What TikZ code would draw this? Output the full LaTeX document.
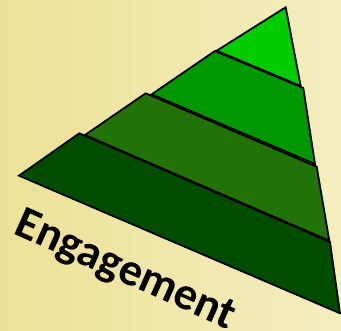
\documentclass[tikz,border=0pt]{standalone}
\usepackage{fontspec}
\setmainfont{Carlito}
\begin{document}
\begin{tikzpicture}[x=1pt,y=-1pt,
  layer/.style={draw=black,line width=1.8pt,line join=miter}]
\definecolor{lone}{RGB}{0,204,0}
\definecolor{ltwo}{RGB}{0,151,0}
\definecolor{lthree}{RGB}{33,115,7}
\definecolor{lfour}{RGB}{0,77,0}
\definecolor{bgl}{RGB}{236,225,150}
\definecolor{bgr}{RGB}{244,238,192}
\useasboundingbox (0,0) rectangle (341,331);
\shade[left color=bgl,right color=bgr] (0,0) rectangle (341,331);
% layers, bottom first
\filldraw[layer,fill=lfour] (79.3,133.3) -- (330,242) -- (340,313.3) -- (19,175.7) -- cycle;
\filldraw[layer,fill=lthree] (145.7,93.3) -- (316.7,166.7) -- (329.3,240.7) -- (85,135) -- cycle;
\filldraw[layer,fill=ltwo] (215,51) -- (303.3,88) -- (315,164) -- (151.7,94.3) -- cycle;
\filldraw[layer,fill=lone] (285.7,7.3) -- (300.7,86) -- (216.7,50.7) -- cycle;
\node[anchor=base west,rotate=-24,inner sep=0pt,font=\bfseries\fontsize{46}{46}\selectfont] (lbl) at (12.5,233.5) {Engagement};
\end{tikzpicture}
\end{document}
